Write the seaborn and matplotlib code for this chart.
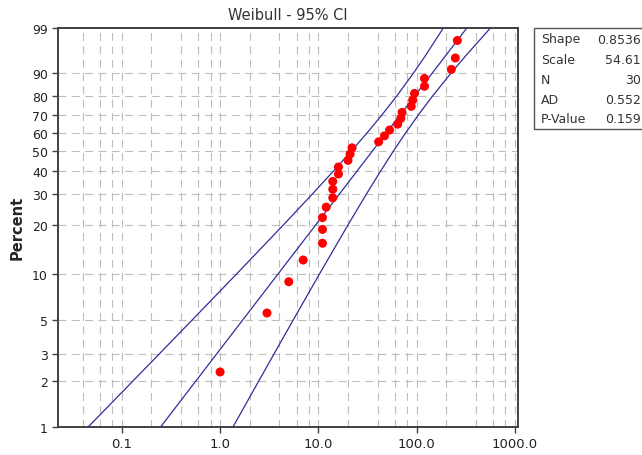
import numpy as np
import pandas as pd
import matplotlib
matplotlib.use("Agg")
import matplotlib.pyplot as plt
import matplotlib.ticker as mticker
from matplotlib.patches import Rectangle
import seaborn as sns

# Failure times and their median-rank percents
times = [1, 3, 5, 7, 11, 11, 11, 12, 14, 14, 14, 16, 16, 20, 21, 22,
         41, 47, 53, 64, 69, 71, 88, 91, 95, 120, 120, 225, 247, 259]
percents = [2.30, 5.59, 8.88, 12.17, 15.46, 18.75, 22.04, 25.33, 28.62, 31.91,
            35.20, 38.49, 41.78, 45.07, 48.36, 51.64, 54.93, 58.22, 61.51, 64.80,
            68.09, 71.38, 74.67, 77.96, 81.25, 84.54, 87.83, 91.12, 94.41, 97.70]

# Fitted line and 95% confidence bounds at a set of percent levels
band_pct = [1, 2, 3, 5, 10, 20, 30, 40, 50, 60, 70, 80, 90, 95, 99]
band_lower = [0.0458, 0.1293, 0.2378, 0.5143, 1.484, 4.427, 8.661, 14.33,
              21.73, 31.40, 44.32, 62.70, 93.42, 122.98, 187.95]
band_fit = [0.2494, 0.5650, 0.9140, 1.683, 3.911, 9.423, 16.32, 24.86,
            35.55, 49.30, 67.88, 95.37, 145.07, 197.46, 326.7]
band_upper = [1.357, 2.468, 3.513, 5.508, 10.31, 20.06, 30.76, 43.14,
              58.15, 77.40, 103.97, 145.07, 225.3, 317.0, 568.1]

stat_names = ["Shape", "Scale", "N", "AD", "P-Value"]
stat_values = ["0.8536", "54.61", "30", "0.552", "0.159"]

y_ticks = [1, 2, 3, 5, 10, 20, 30, 40, 50, 60, 70, 80, 90, 99]
x_ticks = [0.1, 1, 10, 100, 1000]
x_labels = ["0.1", "1.0", "10.0", "100.0", "1000.0"]


def weibull_fwd(p):
    p = np.clip(np.asarray(p, dtype=float), 1e-6, 100 - 1e-6)
    return np.log(-np.log(1 - p / 100.0))


def weibull_inv(w):
    return 100.0 * (1 - np.exp(-np.exp(np.asarray(w, dtype=float))))


sns.set_style("white")
plt.rcParams["font.family"] = ["DejaVu Sans"]

fig = plt.figure(figsize=(6.42, 4.56), dpi=100)
ax = fig.add_axes([0.0908, 0.0621, 0.8073 - 0.0908, 0.9375 - 0.0621])

ax.set_xscale("log")
ax.set_yscale("function", functions=(weibull_fwd, weibull_inv))
ax.set_xlim(0.0226, 1080)
ax.set_ylim(1, 99)

line_color = "#2f2f9a"
bands = pd.DataFrame({"pct": band_pct, "lower": band_lower,
                      "fit": band_fit, "upper": band_upper})
for col in ["lower", "fit", "upper"]:
    sns.lineplot(data=bands, x=col, y="pct", ax=ax, sort=False,
                 estimator=None, color=line_color, linewidth=0.9, zorder=3)

pts = pd.DataFrame({"time": times, "pct": percents})
sns.scatterplot(data=pts, x="time", y="pct", ax=ax, color="#ff0000",
                s=42, edgecolor="none", zorder=4)

# ticks and grid
ax.xaxis.set_major_locator(mticker.FixedLocator(x_ticks))
ax.xaxis.set_major_formatter(mticker.FixedFormatter(x_labels))
ax.xaxis.set_minor_locator(mticker.LogLocator(base=10, subs=[2, 4, 6, 8], numticks=20))
ax.xaxis.set_minor_formatter(mticker.NullFormatter())
ax.yaxis.set_major_locator(mticker.FixedLocator(y_ticks))
ax.yaxis.set_major_formatter(mticker.FixedFormatter([str(t) for t in y_ticks]))
ax.yaxis.set_minor_locator(mticker.NullLocator())

grid_kw = dict(color="#bdbdbd", linestyle=(0, (7, 5)), linewidth=0.8)
ax.grid(True, which="major", axis="both", **grid_kw)
ax.grid(True, which="minor", axis="x", **grid_kw)
ax.set_axisbelow(True)

ax.tick_params(axis="both", which="major", direction="out", length=4,
               width=1, color="#404040", labelcolor="#222222",
               bottom=True, left=True)
ax.tick_params(axis="x", which="major", labelsize=9.5)
ax.tick_params(axis="y", which="major", labelsize=9)
ax.tick_params(axis="x", which="minor", length=0)
for side in ["left", "right", "top", "bottom"]:
    ax.spines[side].set_color("#404040")
    ax.spines[side].set_linewidth(1.4)
    ax.spines[side].set_visible(True)

ax.set_xlabel("")
ax.set_ylabel("Percent", fontsize=10.5, fontweight="bold", labelpad=5)
ax.set_title("Weibull - 95% CI", fontsize=10.5, color="#333333", pad=6)

# statistics box on the right
fig.add_artist(Rectangle((534 / 642, 1 - 130 / 456), 0.3, (130 - 29) / 456,
                         transform=fig.transFigure, fill=False,
                         edgecolor="#555555", linewidth=1.0))
for i, (name, val) in enumerate(zip(stat_names, stat_values)):
    yy = 1 - (40 + 20 * i) / 456
    fig.text(541 / 642, yy, name, ha="left", va="center", fontsize=9, color="#333333")
    fig.text(641 / 642, yy, val, ha="right", va="center", fontsize=9, color="#333333")

fig.savefig("out.png", dpi=100)
